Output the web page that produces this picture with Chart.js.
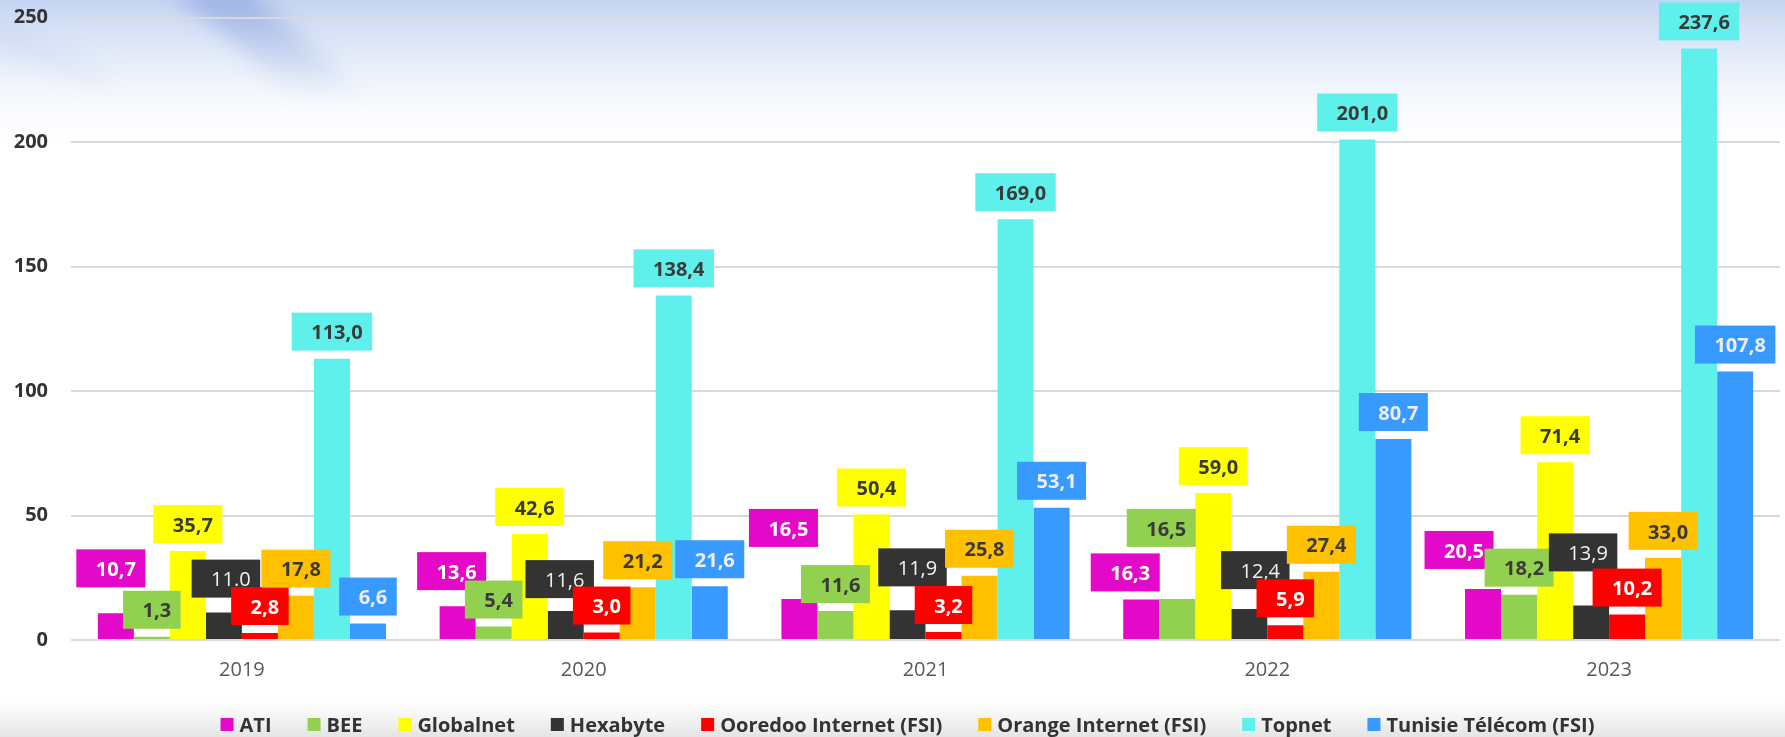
<!DOCTYPE html>
<html>
<head>
<meta charset="utf-8">
<script src="https://cdn.jsdelivr.net/npm/chart.js@4.4.1/dist/chart.umd.min.js"></script>
<style>
    html, body { margin: 0; padding: 0; background: #ffffff; }
    #wrap { width: 1785px; height: 737px; position: relative; }
</style>
</head>
<body>
<div id="wrap"><canvas id="dataChart" width="1785" height="737"></canvas></div>
<script>
// Years on the x axis
const years = ['2019', '2020', '2021', '2022', '2023'];

// Series values
const ati = [10.7, 13.6, 16.5, 16.3, 20.5];
const bee = [1.3, 5.4, 11.6, 16.5, 18.2];
const globalnet = [35.7, 42.6, 50.4, 59.0, 71.4];
const hexabyte = [11.0, 11.6, 11.9, 12.4, 13.9];
const ooredoo = [2.8, 3.0, 3.2, 5.9, 10.2];
const orange = [17.8, 21.2, 25.8, 27.4, 33.0];
const topnet = [113.0, 138.4, 169.0, 201.0, 237.6];
const tunisieTelecom = [6.6, 21.6, 53.1, 80.7, 107.8];

const seriesNames = ['ATI', 'BEE', 'Globalnet', 'Hexabyte', 'Ooredoo Internet (FSI)',
    'Orange Internet (FSI)', 'Topnet', 'Tunisie Télécom (FSI)'];
const seriesValues = [ati, bee, globalnet, hexabyte, ooredoo, orange, topnet, tunisieTelecom];

const yTicks = [0, 50, 100, 150, 200, 250];

// Styling
const colors = ['#E408C8', '#92D050', '#FFFF00', '#333333', '#FF0000', '#FFC000', '#5FF0EB', '#3899FF'];
const labelTextColors = ['#ffffff', '#3a3a3a', '#3a3a3a', '#f2f2f2', '#ffffff', '#3a3a3a', '#3a3a3a', '#eeeeee'];
const FONT = '"Open Sans", "Liberation Sans", sans-serif';

// the source prints this one label with a dot
const labelOverride = { '3-0': '11.0' };

// label shifts (px) where the original moved boxes out of each other's way
const labelNudge = {
    0: [[-5, -18], [-6, -8], [-16, -44], [-16, 0], [-24, -12]],
    1: [[0, 0], [0, 0], [0, 0], [-16, -44], [0, 0]],
    3: [[2, -7], [-6, -5], [5, -16], [6, -12], [-8, -26]]
};

// Background: bluish haze at the top, grey fade at the bottom
const backgroundPlugin = {
    id: 'pageBackground',
    beforeDraw(chart) {
        const ctx = chart.ctx;
        const w = chart.width, h = chart.height;
        ctx.save();
        ctx.fillStyle = '#ffffff';
        ctx.fillRect(0, 0, w, h);

        let g = ctx.createLinearGradient(0, 0, 0, 160);
        g.addColorStop(0, 'rgba(190,207,240,0.9)');
        g.addColorStop(0.4, 'rgba(215,226,246,0.6)');
        g.addColorStop(1, 'rgba(255,255,255,0)');
        ctx.fillStyle = g;
        ctx.fillRect(0, 0, w, 160);

        // soft diagonal streaks
        ctx.filter = 'blur(10px)';
        g = ctx.createLinearGradient(0, 0, 0, 100);
        g.addColorStop(0, 'rgba(110,140,215,0.45)');
        g.addColorStop(1, 'rgba(110,140,215,0)');
        ctx.fillStyle = g;
        ctx.beginPath();
        ctx.moveTo(170, -10); ctx.lineTo(250, -10); ctx.lineTo(370, 100); ctx.lineTo(300, 100);
        ctx.closePath();
        ctx.fill();
        g = ctx.createLinearGradient(0, 0, 0, 100);
        g.addColorStop(0, 'rgba(150,170,220,0.25)');
        g.addColorStop(1, 'rgba(150,170,220,0)');
        ctx.fillStyle = g;
        ctx.beginPath();
        ctx.moveTo(0, 25); ctx.lineTo(110, 70); ctx.lineTo(110, 95); ctx.lineTo(0, 50);
        ctx.closePath();
        ctx.fill();
        ctx.filter = 'none';

        g = ctx.createLinearGradient(0, 700, 0, h);
        g.addColorStop(0, 'rgba(235,235,235,0)');
        g.addColorStop(1, 'rgba(228,228,228,1)');
        ctx.fillStyle = g;
        ctx.fillRect(0, 700, w, h - 700);
        ctx.restore();
    }
};

// Boxed value labels above each bar
const boxLabelPlugin = {
    id: 'boxLabels',
    afterDatasetsDraw(chart) {
        const ctx = chart.ctx;
        ctx.save();
        ctx.textAlign = 'center';
        ctx.textBaseline = 'middle';
        chart.data.datasets.forEach((ds, i) => {
            const meta = chart.getDatasetMeta(i);
            meta.data.forEach((bar, j) => {
                const text = labelOverride[i + '-' + j] || ds.data[j].toFixed(1).replace('.', ',');
                ctx.font = (i === 3 ? '' : 'bold ') + '20px ' + FONT;
                const boxW = ctx.measureText(text).width + 29;
                const boxH = 38;
                const nudge = (labelNudge[i] || [])[j] || [0, 0];
                const cx = bar.x + nudge[0];
                const bottom = bar.y - 8 + nudge[1];
                ctx.fillStyle = ds.backgroundColor;
                ctx.fillRect(cx - boxW / 2, bottom - boxH, boxW, boxH);
                ctx.fillStyle = labelTextColors[i];
                ctx.fillText(text, cx + 5, bottom - boxH / 2 + 2);
            });
        });
        ctx.restore();
    }
};

// Legend row along the bottom edge
const legendPlugin = {
    id: 'bottomLegend',
    afterDraw(chart) {
        const ctx = chart.ctx;
        ctx.save();
        ctx.font = 'bold 20px ' + FONT;
        ctx.textBaseline = 'middle';
        ctx.textAlign = 'left';
        const items = chart.data.datasets.map(ds => ({
            text: ds.label,
            color: ds.backgroundColor,
            w: 13 + 6 + ctx.measureText(ds.label).width
        }));
        const gap = 36;
        const total = items.reduce((s, it) => s + it.w, 0) + gap * (items.length - 1);
        let x = chart.width / 2 + 15 - total / 2;
        const y = 725;
        items.forEach(it => {
            ctx.fillStyle = it.color;
            ctx.fillRect(x, y - 7, 13, 13);
            ctx.fillStyle = '#333333';
            ctx.fillText(it.text, x + 19, y + 1);
            x += it.w + gap;
        });
        ctx.restore();
    }
};

const ctx = document.getElementById('dataChart').getContext('2d');

const chart = new Chart(ctx, {
    type: 'bar',
    data: {
        labels: years,
        datasets: seriesNames.map((name, i) => ({
            label: name,
            data: seriesValues[i],
            backgroundColor: colors[i],
            borderWidth: 0,
            categoryPercentage: 0.843,
            barPercentage: 1.0
        }))
    },
    options: {
        responsive: false,
        animation: false,
        layout: {
            padding: { top: 0, bottom: 0, left: 0, right: 5 }
        },
        scales: {
            x: {
                grid: { display: false, drawTicks: false },
                border: { display: false },
                ticks: {
                    color: '#595959',
                    font: { family: FONT, size: 20 },
                    padding: 18
                },
                afterFit(scale) { scale.height = 97; }
            },
            y: {
                min: 0,
                max: 250,
                afterBuildTicks(scale) { scale.ticks = yTicks.map(v => ({ value: v })); },
                grid: { color: '#d9d9d9', lineWidth: 2, drawTicks: false },
                border: { display: false },
                ticks: {
                    color: '#333333',
                    font: { family: FONT, size: 20, weight: 'bold' },
                    padding: 23
                },
                afterFit(scale) {
                    scale.width = 71;
                    scale.paddingTop = 17.5;
                    scale.paddingBottom = 0;
                }
            }
        },
        plugins: {
            legend: { display: false },
            tooltip: { enabled: false }
        }
    },
    plugins: [backgroundPlugin, boxLabelPlugin, legendPlugin]
});
</script>
</body>
</html>
